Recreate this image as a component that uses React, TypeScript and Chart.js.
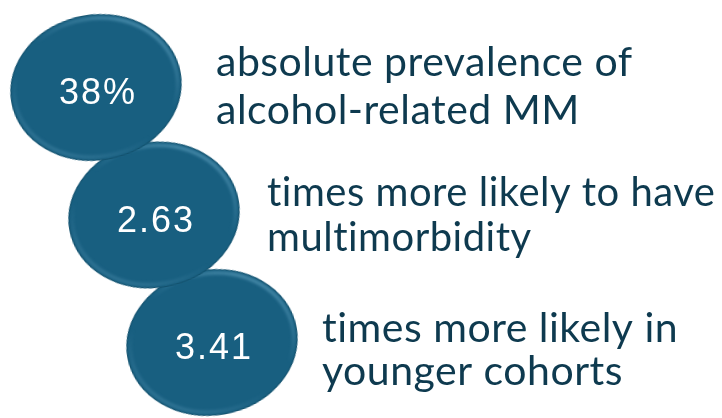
import React, { useEffect, useRef } from "react";
import { Chart, registerables } from "chart.js";

Chart.register(...registerables);

// ---- data ----
const STEPS = [0, 1, 2];
const BUBBLE_VALUES = ["38%", "2.63", "3.41"];
const DESCRIPTION_LINE1 = ["absolute prevalence of", "times more likely to have", "times more likely in"];
const DESCRIPTION_LINE2 = ["alcohol-related MM", "multimorbidity", "younger cohorts"];

// ---- layout / style ----
const W = 722;
const H = 418;
const BUBBLE_FILL = "#185f80";
const TEXT_COLOR = "#0e3a4f";
const TEXT_FONT_SIZES = [41, 40, 41];
const TEXT_DX = [120, 113, 110];
const TEXT_DY = [-11.5, -9, -0.5];
const TEXT_GAP = [48, 45, 43];
const X_PX0 = 96, X_STEP = 58;
const Y_PX0 = 87.5, Y_STEP = 127.5;

function makeBubbleImage(): HTMLCanvasElement {
  const c = document.createElement("canvas");
  c.width = 184;
  c.height = 158;
  const g = c.getContext("2d")!;
  const cx = 92, cy = 79, rx = 86, ry = 73;
  g.beginPath();
  g.ellipse(cx, cy, rx, ry, 0, 0, Math.PI * 2);
  g.fillStyle = BUBBLE_FILL;
  g.fill();
  g.save();
  g.beginPath();
  g.ellipse(cx, cy, rx, ry, 0, 0, Math.PI * 2);
  g.clip();
  const grad = g.createLinearGradient(cx + rx * 0.6, cy - ry, cx - rx * 0.6, cy + ry);
  grad.addColorStop(0, "rgba(110,175,205,0.75)");
  grad.addColorStop(0.42, "rgba(110,170,200,0.0)");
  grad.addColorStop(0.62, "rgba(110,170,200,0.0)");
  grad.addColorStop(1, "rgba(110,170,200,0.4)");
  g.filter = "blur(1.5px)";
  g.beginPath();
  g.ellipse(cx, cy, rx - 4, ry - 4, 0, 0, Math.PI * 2);
  g.lineWidth = 3;
  g.strokeStyle = grad;
  g.stroke();
  g.filter = "none";
  g.beginPath();
  g.ellipse(cx, cy, rx - 0.5, ry - 0.5, 0, 0, Math.PI * 2);
  g.lineWidth = 1.2;
  g.strokeStyle = "rgba(14,70,95,0.6)";
  g.stroke();
  g.restore();
  return c;
}

const labelPlugin = {
  id: "bubbleLabels",
  afterDatasetsDraw(chart: any) {
    const ctx = chart.ctx as CanvasRenderingContext2D;
    const xs = chart.scales.x;
    const ys = chart.scales.y;
    STEPS.forEach((s, i) => {
      const x = xs.getPixelForValue(s);
      const y = ys.getPixelForValue(s);
      ctx.save();
      ctx.fillStyle = "#ffffff";
      ctx.font = "36px 'Liberation Sans', Arial, sans-serif";
      (ctx as any).letterSpacing = "2px";
      ctx.textAlign = "center";
      ctx.textBaseline = "middle";
      ctx.fillText(BUBBLE_VALUES[i], x + 2, y + 7);
      (ctx as any).letterSpacing = "0.5px";
      ctx.fillStyle = TEXT_COLOR;
      ctx.textAlign = "left";
      ctx.textBaseline = "alphabetic";
      ctx.font = `${TEXT_FONT_SIZES[i]}px Lato, sans-serif`;
      ctx.fillText(DESCRIPTION_LINE1[i], x + TEXT_DX[i], y + TEXT_DY[i]);
      ctx.fillText(DESCRIPTION_LINE2[i], x + TEXT_DX[i], y + TEXT_DY[i] + TEXT_GAP[i]);
      ctx.restore();
    });
  },
};

export default function App() {
  const ref = useRef<HTMLCanvasElement | null>(null);
  useEffect(() => {
    document.body.style.margin = "0";
    const img = makeBubbleImage();
    const order = [...STEPS].reverse();
    const chart = new Chart(ref.current!, {
      type: "scatter",
      data: {
        datasets: [
          {
            data: order.map((s) => ({ x: s, y: s })),
            pointStyle: img as any,
            pointRadius: 80,
            rotation: -10,
            clip: false,
            backgroundColor: BUBBLE_FILL,
          } as any,
        ],
      },
      options: {
        responsive: false,
        animation: false,
        events: [],
        layout: { padding: 0, autoPadding: false },
        plugins: { legend: { display: false }, tooltip: { enabled: false } },
        scales: {
          x: { type: "linear", display: false, min: -X_PX0 / X_STEP, max: (W - X_PX0) / X_STEP },
          y: { type: "linear", display: false, reverse: true, min: -Y_PX0 / Y_STEP, max: (H - Y_PX0) / Y_STEP },
        },
      },
      plugins: [labelPlugin],
    });
    return () => chart.destroy();
  }, []);
  return (
    <div style={{ position: "absolute", left: 0, top: 0, width: W, height: H, background: "#fff" }}>
      <canvas ref={ref} width={W} height={H} style={{ width: W, height: H }} />
    </div>
  );
}
